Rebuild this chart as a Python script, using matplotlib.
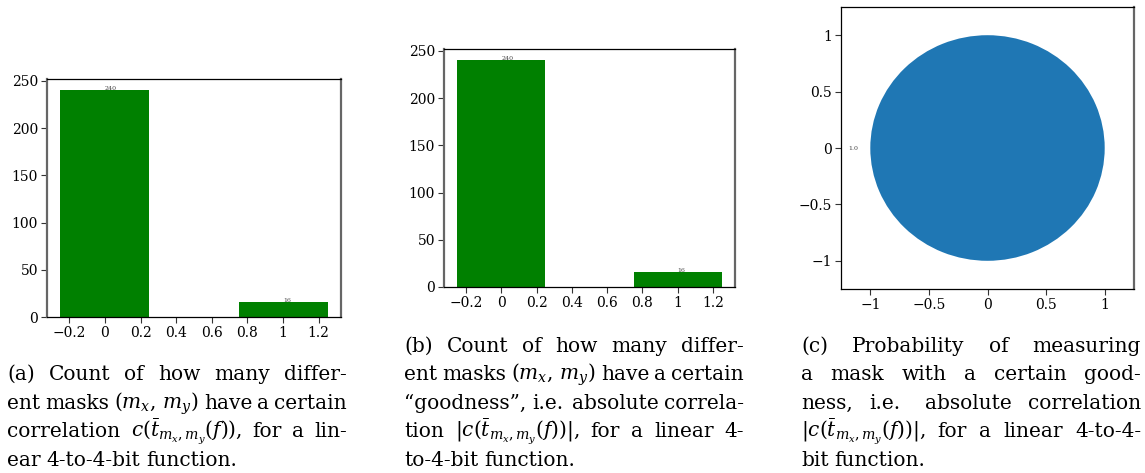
import re
import matplotlib
matplotlib.use("Agg")
import matplotlib.pyplot as plt
from matplotlib.ticker import FuncFormatter

plt.rcParams['font.family'] = ['DejaVu Serif']
plt.rcParams['mathtext.fontset'] = 'dejavuserif'

W, H = 1145, 473

# correlation histogram (signed and absolute give the same counts here)
corr_values = [0, 1]
corr_counts = [240, 16]
abs_values = [0, 1]
abs_counts = [240, 16]

# probability of measuring a mask with a given goodness
goodness_labels = ['1.0']
goodness_probs = [1.0]

bar_xticks = [-0.2, 0, 0.2, 0.4, 0.6, 0.8, 1, 1.2]
bar_yticks = [0, 50, 100, 150, 200, 250]
pie_ticks = [-1, -0.5, 0, 0.5, 1]

captions = {
    'a': ["(a) Count of how many differ-",
          r"ent masks $(m_x,\,m_y)$ have a certain",
          r"correlation $c(\bar{t}_{m_x,m_y}(f))$, for a lin-",
          "ear 4-to-4-bit function."],
    'b': ["(b) Count of how many differ-",
          r"ent masks $(m_x,\,m_y)$ have a certain",
          "\u201cgoodness\u201d, i.e. absolute correla-",
          r"tion $|c(\bar{t}_{m_x,m_y}(f))|$, for a linear 4-",
          "to-4-bit function."],
    'c': ["(c) Probability of measuring",
          "a mask with a certain good-",
          "ness, i.e. absolute correlation",
          r"$|c(\bar{t}_{m_x,m_y}(f))|$, for a linear 4-to-4-",
          "bit function."],
}


def px_axes(fig, left, top, right, bottom):
    return fig.add_axes([left / W, 1 - bottom / H, (right - left) / W, (bottom - top) / H])


def tick_fmt(v, pos):
    return f'{v:g}'.replace('-', '\u2212')


def style_axes(ax, left_col, right_col):
    for side in ['top', 'bottom']:
        ax.spines[side].set_color('black')
        ax.spines[side].set_linewidth(0.9)
    ax.spines['left'].set_color(left_col)
    ax.spines['left'].set_linewidth(1.6 if left_col != 'black' else 0.9)
    ax.spines['right'].set_color(right_col)
    ax.spines['right'].set_linewidth(1.6 if right_col != 'black' else 0.9)
    ax.tick_params(labelsize=10, length=4, pad=2.5, color='#333333')
    ax.xaxis.set_major_formatter(FuncFormatter(tick_fmt))
    ax.yaxis.set_major_formatter(FuncFormatter(tick_fmt))


def bar_panel(ax, xs, counts):
    ax.bar(xs, counts, width=0.5, color='green')
    for x, c in zip(xs, counts):
        ax.text(x, c, str(c), fontsize=4.5, color='#444444')
    ax.set_xticks(bar_xticks)
    ax.set_yticks(bar_yticks)
    style_axes(ax, '#666666', '#666666')


fig = plt.figure(figsize=(W / 100, H / 100), dpi=100)

ax1 = px_axes(fig, 47, 79, 341, 317)
bar_panel(ax1, corr_values, corr_counts)

ax2 = px_axes(fig, 444, 49, 735, 287)
bar_panel(ax2, abs_values, abs_counts)

ax3 = px_axes(fig, 841, 7, 1134, 289)
ax3.pie(goodness_probs, labels=goodness_labels, frame=True,
        textprops={'fontsize': 4.5, 'color': '#444444'})
ax3.set_aspect('auto')
ax3.set_xlim(-1.25, 1.25)
ax3.set_ylim(-1.25, 1.25)
ax3.set_xticks(pie_ticks)
ax3.set_yticks(pie_ticks)
style_axes(ax3, 'black', '#666666')


# justified caption text, one text object per word
renderer = fig.canvas.get_renderer()
cap_size = 14.5
line_step = 28.6


def draw_caption(lines, x0, x1, y_first):
    for i, line in enumerate(lines):
        words = re.findall(r'(?:\$[^$]*\$|\S)+', line)
        y = 1 - (y_first + i * line_step) / H
        texts = [fig.text(x0 / W, y, w, fontsize=cap_size, va='baseline') for w in words]
        widths = [t.get_window_extent(renderer).width for t in texts]
        # a bit more room after a full stop, as TeX does
        weights = [1.5 if w.endswith('.') else 1.0 for w in words[:-1]]
        last = i == len(lines) - 1
        if last or len(words) == 1:
            unit = cap_size * 100 / 72 * 0.3
        else:
            unit = (x1 - x0 - sum(widths)) / sum(weights)
        x = x0
        for j, (t, w) in enumerate(zip(texts, widths)):
            t.set_x(x / W)
            if j < len(weights):
                x += w + unit * (1.0 if last else weights[j])


draw_caption(captions['a'], 7, 347, 380)
draw_caption(captions['b'], 404, 744, 351.5)
draw_caption(captions['c'], 801, 1141, 351.5)

fig.savefig('out.png', dpi=100)
